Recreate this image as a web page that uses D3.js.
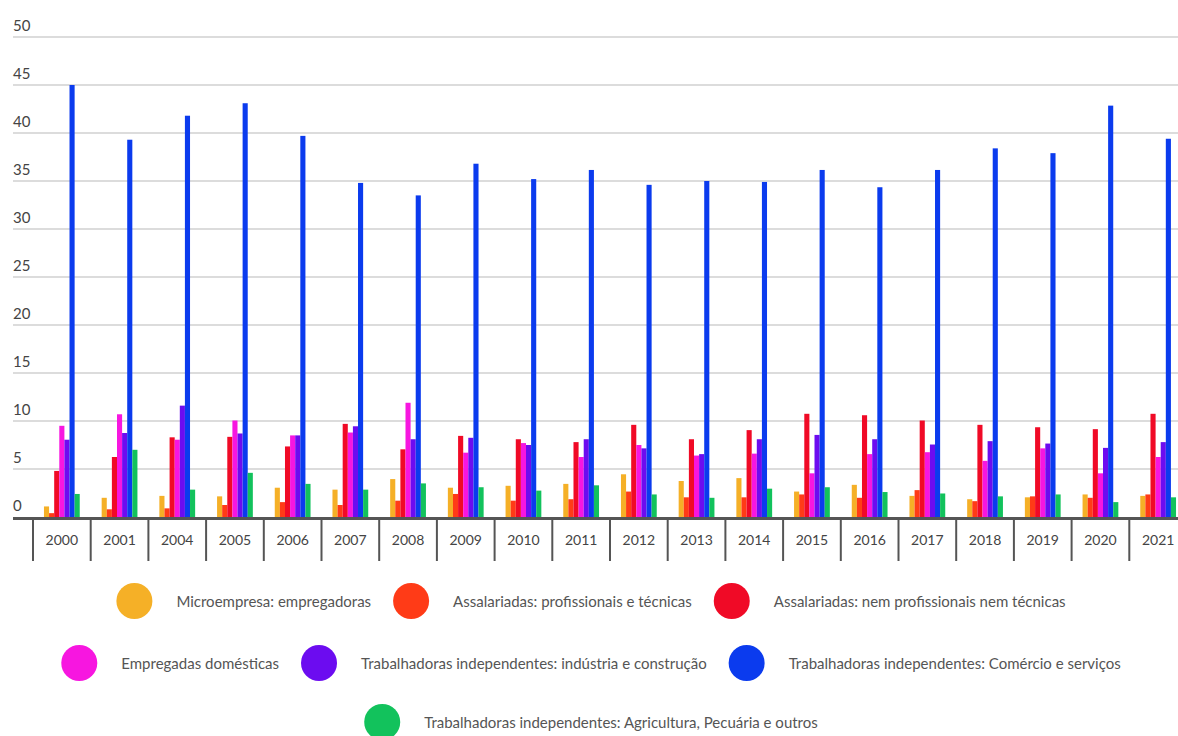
<!DOCTYPE html>
<html>
<head>
<meta charset="utf-8">
<script src="https://cdn.jsdelivr.net/npm/d3@7"></script>
<style>
  html, body { margin: 0; padding: 0; background: #fff; }
  svg { display: block; }
  text { font-family: Lato, "Noto Sans", sans-serif; }
</style>
</head>
<body>
<svg id="chart" width="1178" height="736"></svg>
<script>
// Categories (years)
const years = ["2000","2001","2004","2005","2006","2007","2008","2009","2010","2011",
               "2012","2013","2014","2015","2016","2017","2018","2019","2020","2021"];

// Series names
const seriesNames = [
  "Microempresa: empregadoras",
  "Assalariadas: profissionais e técnicas",
  "Assalariadas: nem profissionais nem técnicas",
  "Empregadas domésticas",
  "Trabalhadoras independentes: indústria e construção",
  "Trabalhadoras independentes: Comércio e serviços",
  "Trabalhadoras independentes: Agricultura, Pecuária e outros"
];

// Series values (%), one per year
const microempresa = [1.1, 2.0, 2.2, 2.15, 3.05, 2.85, 3.95, 3.05, 3.25, 3.45, 4.45, 3.75, 4.05, 2.65, 3.35, 2.2, 1.85, 2.05, 2.35, 2.2];
const profissionais = [0.4, 0.8, 0.9, 1.25, 1.55, 1.25, 1.7, 2.4, 1.7, 1.85, 2.65, 2.05, 2.05, 2.35, 2.0, 2.8, 1.65, 2.15, 2.0, 2.35];
const nemProfissionais = [4.8, 6.25, 8.3, 8.35, 7.35, 9.7, 7.05, 8.45, 8.1, 7.8, 9.6, 8.1, 9.05, 10.75, 10.6, 10.05, 9.6, 9.35, 9.15, 10.75];
const domesticas = [9.5, 10.7, 8.05, 10.05, 8.5, 8.8, 11.9, 6.7, 7.7, 6.25, 7.5, 6.4, 6.6, 4.55, 6.55, 6.75, 5.85, 7.15, 4.55, 6.25];
const industria = [8.05, 8.75, 11.6, 8.7, 8.5, 9.45, 8.1, 8.25, 7.5, 8.1, 7.15, 6.55, 8.1, 8.55, 8.1, 7.55, 7.9, 7.65, 7.2, 7.8];
const comercio = [45.0, 39.3, 41.8, 43.1, 39.7, 34.8, 33.5, 36.8, 35.2, 36.15, 34.6, 35.0, 34.9, 36.15, 34.35, 36.15, 38.4, 37.9, 42.85, 39.4];
const agricultura = [2.4, 7.0, 2.85, 4.6, 3.45, 2.85, 3.5, 3.1, 2.75, 3.3, 2.35, 2.0, 2.95, 3.1, 2.6, 2.45, 2.15, 2.35, 1.55, 2.05];

// Y-axis tick labels
const yTicks = [0, 5, 10, 15, 20, 25, 30, 35, 40, 45, 50];

const seriesValues = [microempresa, profissionais, nemProfissionais, domesticas, industria, comercio, agricultura];
const colors = ["#F5B027", "#FF3B17", "#F00A26", "#F716E0", "#6C0CF0", "#0B3BEE", "#12C25C"];

const svg = d3.select("#chart");
const W = 1178;

const left = 13, plotTop = 37, plotBottom = 517;
const y = d3.scaleLinear().domain([0, 50]).range([plotBottom, plotTop]);
const x0 = d3.scaleBand().domain(years).range([33, 1187]).padding(0);
const groupFrac = 0.62;
const x1 = d3.scaleBand().domain(d3.range(seriesNames.length))
  .range([0, x0.bandwidth() * groupFrac]).padding(0);
const groupOffset = x0.bandwidth() * (1 - groupFrac) / 2;

// Gridlines and y labels
const grid = svg.append("g");
grid.selectAll("line").data(yTicks.filter(d => d > 0)).join("line")
  .attr("x1", left).attr("x2", W)
  .attr("y1", d => y(d)).attr("y2", d => y(d))
  .attr("stroke", "#dcdcdc").attr("stroke-width", 2);
grid.selectAll("text").data(yTicks).join("text")
  .attr("x", left).attr("y", d => y(d) - 6)
  .attr("font-size", 15).attr("fill", "#444")
  .text(d => d);

// Bars
const groups = svg.append("g").selectAll("g").data(years).join("g")
  .attr("transform", d => `translate(${x0(d) + groupOffset},0)`);
groups.selectAll("rect")
  .data((d, i) => seriesValues.map((vals, s) => ({ s, v: vals[i] })))
  .join("rect")
  .attr("x", d => x1(d.s))
  .attr("width", x1.bandwidth())
  .attr("y", d => y(d.v))
  .attr("height", d => y(0) - y(d.v))
  .attr("fill", d => colors[d.s]);

// Category axis: baseline, separators, labels
const axis = svg.append("g");
axis.append("line").attr("x1", left).attr("x2", W)
  .attr("y1", plotBottom + 1.5).attr("y2", plotBottom + 1.5)
  .attr("stroke", "#555").attr("stroke-width", 3);
axis.selectAll("line.sep").data(years).join("line").attr("class", "sep")
  .attr("x1", d => x0(d)).attr("x2", d => x0(d))
  .attr("y1", plotBottom + 3).attr("y2", 561)
  .attr("stroke", "#555").attr("stroke-width", 2);
axis.selectAll("text").data(years).join("text")
  .attr("x", d => x0(d) + x0.bandwidth() / 2).attr("y", 545)
  .attr("text-anchor", "middle").attr("font-size", 14).attr("fill", "#444")
  .text(d => d);

// Legend: three centred rows
const rows = [[0, 1, 2], [3, 4, 5], [6]];
const rowY = [601, 663, 722];
const r = 18, textGap = 24, itemGap = 22, legendCenter = 591;
rows.forEach((row, ri) => {
  const g = svg.append("g");
  const items = row.map(s => {
    const t = g.append("text").attr("font-size", 15).attr("fill", "#555")
      .attr("dominant-baseline", "central").text(seriesNames[s]);
    return { s, t, w: t.node().getComputedTextLength() };
  });
  const total = d3.sum(items, d => 2 * r + textGap + d.w) + itemGap * (items.length - 1);
  let cx = legendCenter - total / 2;
  items.forEach(it => {
    g.append("circle").attr("cx", cx + r).attr("cy", rowY[ri]).attr("r", r)
      .attr("fill", colors[it.s]);
    it.t.attr("x", cx + 2 * r + textGap).attr("y", rowY[ri]);
    cx += 2 * r + textGap + it.w + itemGap;
  });
});
</script>
</body>
</html>
